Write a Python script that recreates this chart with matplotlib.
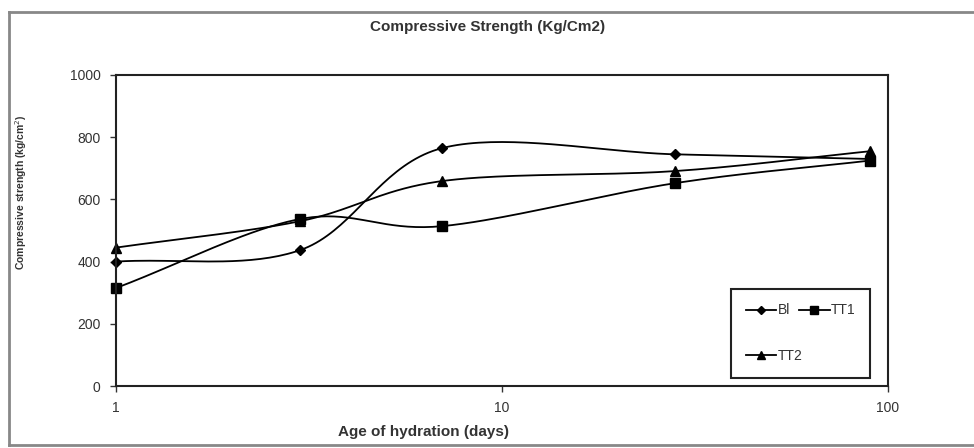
import numpy as np
import matplotlib
matplotlib.use('Agg')
import matplotlib.pyplot as plt
from matplotlib.lines import Line2D

plt.rcParams['font.family'] = ['Liberation Sans', 'DejaVu Sans']

# data
days = [1, 3, 7, 28, 90]
bl = [400, 437, 765, 745, 730]
tt1 = [315, 537, 514, 652, 725]
tt2 = [445, 530, 659, 691, 755]
series_names = ['Bl', 'TT1', 'TT2']
markers = ['D', 's', '^']
marker_sizes = [5, 7, 7]


def smooth(x, y, n=40):
    # excel-like smoothed line: catmull-rom through points in log-x space
    px = np.log10(np.asarray(x, float))
    py = np.asarray(y, float)
    px = np.concatenate([[2 * px[0] - px[1]], px, [2 * px[-1] - px[-2]]])
    py = np.concatenate([[2 * py[0] - py[1]], py, [2 * py[-1] - py[-2]]])
    xs, ys = [], []
    for i in range(1, len(px) - 2):
        t = np.linspace(0, 1, n)
        p0, p1, p2, p3 = (np.array([px[j], py[j]]) for j in range(i - 1, i + 3))
        c1 = p1 + (p2 - p0) / 6
        c2 = p2 - (p3 - p1) / 6
        b = ((1 - t) ** 3)[:, None] * p1 + (3 * (1 - t) ** 2 * t)[:, None] * c1 \
            + (3 * (1 - t) * t ** 2)[:, None] * c2 + (t ** 3)[:, None] * p2
        xs.append(b[:, 0])
        ys.append(b[:, 1])
    return 10 ** np.concatenate(xs), np.concatenate(ys)


fig = plt.figure(figsize=(9.74, 4.48), dpi=100)
W, H = 974, 448
ax = fig.add_axes([116 / W, 1 - 386 / H, (888 - 116) / W, (386 - 75) / H])

handles = {}
for vals, name, m, ms in zip([bl, tt1, tt2], series_names, markers, marker_sizes):
    sx, sy = smooth(days, vals)
    ax.plot(sx, sy, color='black', lw=1.3)
    ax.plot(days, vals, linestyle='none', marker=m, markersize=ms, color='black', clip_on=False)
    handles[name] = Line2D([], [], color='black', lw=1.3, marker=m, markersize=ms - 1, label=name)

ax.set_xscale('log')
ax.set_xlim(1, 100)
ax.set_ylim(0, 1000)
ax.set_yticks(range(0, 1001, 200))
ax.set_xticks([1, 10, 100])
ax.set_xticklabels(['1', '10', '100'])
ax.xaxis.set_minor_locator(matplotlib.ticker.NullLocator())
ax.tick_params(labelsize=10, colors='#333333', length=4, width=1, pad=7)
for s in ax.spines.values():
    s.set_linewidth(1.5)
    s.set_color('#222222')

# legend fills column-wise: Bl, TT1 on the first row, TT2 below
leg = ax.legend(handles=[handles['Bl'], handles['TT2'], handles['TT1']], ncol=2, loc='lower left',
                bbox_to_anchor=(0.797, 0.026, 0.18, 0.292), mode='expand',
                borderaxespad=0, fancybox=False, edgecolor='#222222',
                fontsize=10, labelspacing=2.3, borderpad=1.05, handlelength=2.2,
                handletextpad=0.1, columnspacing=1.6, framealpha=1)
leg.get_frame().set_linewidth(1.5)
leg._legend_box.align = 'left'
for t in leg.get_texts():
    t.set_color('#333333')

fig.text(488 / W, 1 - 27 / H, 'Compressive Strength (Kg/Cm2)', ha='center', va='center',
         fontsize=11, fontweight='bold', color='#333333')
fig.text(424 / W, 1 - 432 / H, 'Age of hydration (days)', ha='center', va='center',
         fontsize=11, fontweight='bold', color='#333333')
fig.text(21 / W, 1 - 192 / H, 'Compressive strength (kg/cm$^2$)', ha='center', va='center',
         rotation=90, fontsize=7.5, fontweight='bold', color='#333333')

# outer chart frame
frame = [([9, 9], [12, 445]), ([9, 974], [12, 12]), ([9, 974], [445, 445])]
for fx, fy in frame:
    fig.add_artist(Line2D([v / W for v in fx], [1 - v / H for v in fy],
                          color='#888888', lw=2))

fig.savefig('out.png', dpi=100)
